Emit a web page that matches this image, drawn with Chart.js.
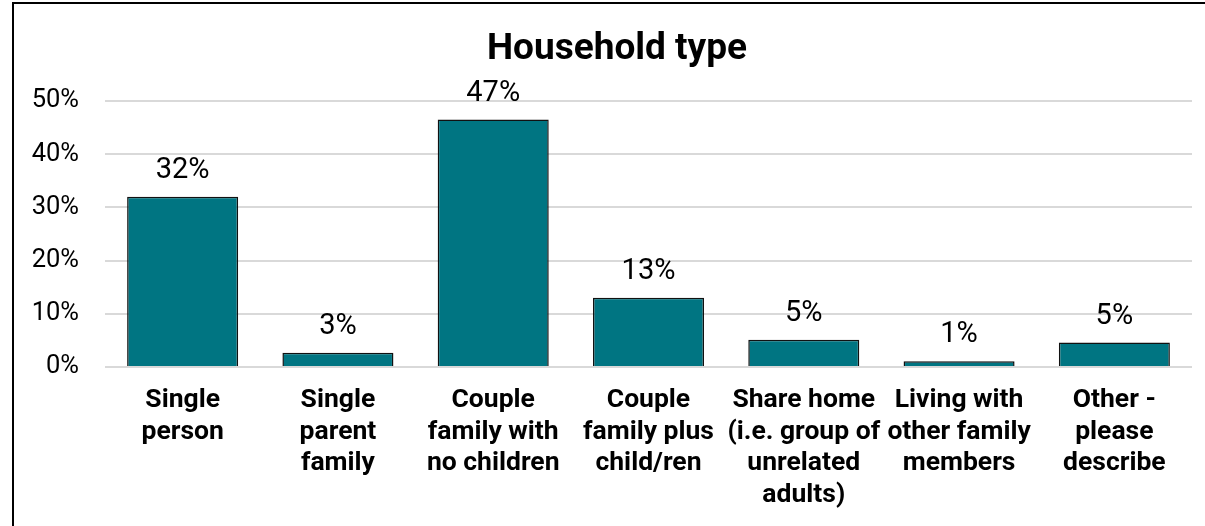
<!DOCTYPE html>
<html>
<head>
<meta charset="utf-8">
<script src="https://cdn.jsdelivr.net/npm/chart.js@4"></script>
<style>
  html, body { margin: 0; padding: 0; background: #fff; }
  #frame {
    position: absolute; left: 12px; top: 2px; width: 1300px; height: 600px;
    border-left: 2px solid #000; border-top: 2px solid #000;
  }
  #wrap { position: absolute; left: 0; top: 0; width: 1205px; height: 526px; }
</style>
</head>
<body>
<div id="frame"></div>
<div id="wrap"><canvas id="chart"></canvas></div>
<script>
const categories = [
  ['Single', 'person'],
  ['Single', 'parent', 'family'],
  ['Couple', 'family with', 'no children'],
  ['Couple', 'family plus', 'child/ren'],
  ['Share home', '(i.e. group of', 'unrelated', 'adults)'],
  ['Living with', 'other family', 'members'],
  ['Other -', 'please', 'describe'],
];

// percent of respondents
const shares = [32.0, 2.7, 46.5, 13.0, 5.1, 1.1, 4.6];

const yTicks = [0, 10, 20, 30, 40, 50];

const chartTitle = 'Household type';

// draws the title centred over the whole chart box, like the source
const titleText = {
  id: 'titleText',
  afterDraw(chart) {
    const ctx = chart.ctx;
    ctx.save();
    ctx.font = 'bold 37px Roboto';
    ctx.fillStyle = '#000';
    ctx.textAlign = 'center';
    ctx.textBaseline = 'alphabetic';
    ctx.fillText(chartTitle, 617, 59);
    ctx.restore();
  }
};

// value labels above each bar
const barLabels = {
  id: 'barLabels',
  afterDatasetsDraw(chart) {
    const ctx = chart.ctx;
    const meta = chart.getDatasetMeta(0);
    ctx.save();
    ctx.font = '29px Roboto';
    ctx.fillStyle = '#000';
    ctx.textAlign = 'center';
    ctx.textBaseline = 'alphabetic';
    meta.data.forEach((bar, i) => {
      ctx.fillText(Math.round(shares[i]) + '%', bar.x, bar.y - 19);
    });
    ctx.restore();
  }
};

Chart.defaults.font.family = 'Roboto';
Chart.defaults.color = '#000';

const config_bar = {
  type: 'bar',
  data: {
    labels: categories,
    datasets: [{
      label: chartTitle,
      data: shares,
      backgroundColor: '#007582',
      borderColor: '#111',
      borderWidth: 1.5,
      categoryPercentage: 1,
      barPercentage: 0.715,
    }]
  },
  options: {
    responsive: true,
    maintainAspectRatio: false,
    animation: false,
    layout: { padding: { left: 0, right: 13, top: 101, bottom: 0 } },
    plugins: {
      legend: { display: false },
      title: { display: false },
      tooltip: { enabled: false },
    },
    scales: {
      x: {
        grid: { display: false, drawTicks: false },
        border: { display: false },
        ticks: {
          font: { size: 26.5, weight: 'bold', lineHeight: 1.19 },
          color: '#000',
          padding: 18,
          maxRotation: 0,
          autoSkip: false,
        },
        afterFit(scale) { scale.height = 159; },
      },
      y: {
        min: 0,
        max: 50,
        afterBuildTicks(scale) { scale.ticks = yTicks.map(v => ({ value: v })); },
        grid: { color: '#d9d9d9', lineWidth: 2, drawTicks: false },
        border: { display: false },
        ticks: {
          font: { size: 25.5 },
          color: '#000',
          padding: 26,
          callback: v => v + '%',
        },
        afterFit(scale) { scale.width = 105; },
      }
    }
  },
  plugins: [titleText, barLabels]
};

const myBar = new Chart(document.getElementById('chart'), config_bar);
</script>
</body>
</html>
